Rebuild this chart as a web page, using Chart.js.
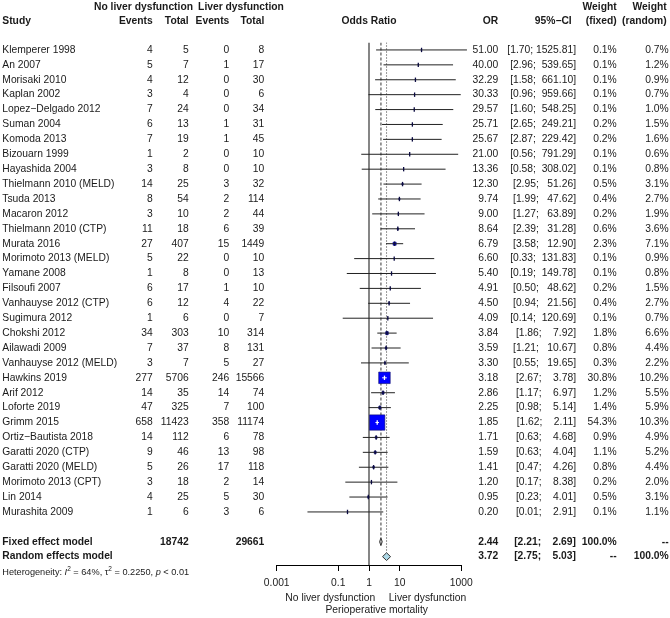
<!DOCTYPE html>
<html>
<head>
<meta charset="utf-8">
<script src="https://cdn.jsdelivr.net/npm/chart.js@4.4.0/dist/chart.umd.min.js"></script>
<style>
  html, body { margin: 0; padding: 0; background: #fff; }
  #forest { display: block; }
</style>
</head>
<body>
<canvas id="forest" width="670" height="618"></canvas>
<script>
// Study rows
const studyNames = ['Klemperer 1998', 'An 2007', 'Morisaki 2010', 'Kaplan 2002', 'Lopez\u2212Delgado 2012', 'Suman 2004',
  'Komoda 2013', 'Bizouarn 1999', 'Hayashida 2004', 'Thielmann 2010 (MELD)', 'Tsuda 2013', 'Macaron 2012',
  'Thielmann 2010 (CTP)', 'Murata 2016', 'Morimoto 2013 (MELD)', 'Yamane 2008', 'Filsoufi 2007', 'Vanhauyse 2012 (CTP)',
  'Sugimura 2012', 'Chokshi 2012', 'Ailawadi 2009', 'Vanhauyse 2012 (MELD)', 'Hawkins 2019', 'Arif 2012',
  'Loforte 2019', 'Grimm 2015', 'Ortiz\u2212Bautista 2018', 'Garatti 2020 (CTP)', 'Garatti 2020 (MELD)',
  'Morimoto 2013 (CPT)', 'Lin 2014', 'Murashita 2009'];
const eventsNoLD = [4, 5, 4, 3, 7, 6, 7, 1, 3, 14, 8, 3, 11, 27, 5, 1, 6, 6, 1, 34, 7, 3, 277, 14, 47, 658, 14, 9, 5, 3, 4, 1];
const totalNoLD = [5, 7, 12, 4, 24, 13, 19, 2, 8, 25, 54, 10, 18, 407, 22, 8, 17, 12, 6, 303, 37, 7, 5706, 35, 325, 11423, 112, 46, 26, 18, 25, 6];
const eventsLD = [0, 1, 0, 0, 0, 1, 1, 0, 0, 3, 2, 2, 6, 15, 0, 0, 1, 4, 0, 10, 8, 5, 246, 14, 7, 358, 6, 13, 17, 2, 5, 3];
const totalLD = [8, 17, 30, 6, 34, 31, 45, 10, 10, 32, 114, 44, 39, 1449, 10, 13, 10, 22, 7, 314, 131, 27, 15566, 74, 100, 11174, 78, 98, 118, 14, 30, 6];
const oddsRatio = [51.00, 40.00, 32.29, 30.33, 29.57, 25.71, 25.67, 21.00, 13.36, 12.30, 9.74, 9.00, 8.64, 6.79, 6.60, 5.40,
  4.91, 4.50, 4.09, 3.84, 3.59, 3.30, 3.18, 2.86, 2.25, 1.85, 1.71, 1.59, 1.41, 1.20, 0.95, 0.20];
const ciLower = [1.70, 2.96, 1.58, 0.96, 1.60, 2.65, 2.87, 0.56, 0.58, 2.95, 1.99, 1.27, 2.39, 3.58, 0.33, 0.19,
  0.50, 0.94, 0.14, 1.86, 1.21, 0.55, 2.67, 1.17, 0.98, 1.62, 0.63, 0.63, 0.47, 0.17, 0.23, 0.01];
const ciUpper = [1525.81, 539.65, 661.10, 959.66, 548.25, 249.21, 229.42, 791.29, 308.02, 51.26, 47.62, 63.89, 31.28, 12.90,
  131.83, 149.78, 48.62, 21.56, 120.69, 7.92, 10.67, 19.65, 3.78, 6.97, 5.14, 2.11, 4.68, 4.04, 4.26, 8.38, 4.01, 2.91];
const weightFixed = [0.1, 0.1, 0.1, 0.1, 0.1, 0.2, 0.2, 0.1, 0.1, 0.5, 0.4, 0.2, 0.6, 2.3, 0.1, 0.1, 0.2, 0.4, 0.1, 1.8,
  0.8, 0.3, 30.8, 1.2, 1.4, 54.3, 0.9, 1.1, 0.8, 0.2, 0.5, 0.1];
const weightRandom = [0.7, 1.2, 0.9, 0.7, 1.0, 1.5, 1.6, 0.6, 0.8, 3.1, 2.7, 1.9, 3.6, 7.1, 0.9, 0.8, 1.5, 2.7, 0.7, 6.6,
  4.4, 2.2, 10.2, 5.5, 5.9, 10.3, 4.9, 5.2, 4.4, 2.0, 3.1, 1.1];

// Pooled models
const modelNames = ['Fixed effect model', 'Random effects model'];
const modelOR = [2.44, 3.72];
const modelLower = [2.21, 2.75];
const modelUpper = [2.69, 5.03];
const modelWeightFixed = ['100.0%', '--'];
const modelWeightRandom = ['--', '100.0%'];
const pooledTotals = [18742, 29661];

// Axis
const xTicks = [0.001, 0.1, 1, 10, 1000];
const xTickLabels = ['0.001', '0.1', '1', '10', '1000'];

const FONT = "'Liberation Sans', Arial, Helvetica, sans-serif";
const TEXT_COLOR = '#1a1a1a';
const ROW_FIXED = 33;
const ROW_RANDOM = 34;
const DIAMOND_H = 0.26;

// square side in px from fixed weight
const squareSide = w => 2.08 * Math.sqrt(w);

function ciInsideSquare(chart, i) {
  const x = chart.scales.x;
  return (x.getPixelForValue(ciUpper[i]) - x.getPixelForValue(ciLower[i])) < squareSide(weightFixed[i]);
}

function ciText(lo, hi) {
  const u = hi.toFixed(2);
  return '[' + lo.toFixed(2) + '; ' + ' '.repeat(Math.max(0, 7 - u.length)) + u + ']';
}

// CI segments with gaps between studies
const ciPoints = [];
studyNames.forEach((_, i) => {
  ciPoints.push({x: ciLower[i], y: i}, {x: ciUpper[i], y: i}, {x: ciUpper[i], y: null});
});

const estPoints = oddsRatio.map((v, i) => ({x: v, y: i}));

function diamond(row, est, lo, hi) {
  return [
    {x: lo, y: row}, {x: est, y: row - DIAMOND_H}, {x: hi, y: row},
    {x: est, y: row + DIAMOND_H}, {x: lo, y: row}
  ];
}

const forestText = {
  id: 'forestText',
  afterDraw(chart) {
    const ctx = chart.ctx;
    const ys = chart.scales.y;
    const xs = chart.scales.x;
    ctx.save();
    ctx.fillStyle = TEXT_COLOR;
    ctx.textBaseline = 'middle';

    const put = (txt, x, y, align, bold, size) => {
      ctx.font = (bold ? 'bold ' : '') + (size || 10.3) + 'px ' + FONT;
      ctx.textAlign = align;
      ctx.fillText(txt, x, y);
    };

    // headers
    const h1 = ys.getPixelForValue(-2.9);
    const h2 = ys.getPixelForValue(-1.9);
    put('No liver dysfunction', 143.5, h1, 'center', true);
    put('Liver dysfunction', 241, h1, 'center', true);
    put('Weight', 616.7, h1, 'right', true);
    put('Weight', 666.7, h1, 'right', true);
    put('Study', 2.3, h2, 'left', true);
    put('Events', 152.7, h2, 'right', true);
    put('Total', 188.7, h2, 'right', true);
    put('Events', 229.3, h2, 'right', true);
    put('Total', 264.3, h2, 'right', true);
    put('Odds Ratio', xs.getPixelForValue(1), h2, 'center', true);
    put('OR', 498.3, h2, 'right', true);
    put('95%\u2212CI', 571.7, h2, 'right', true);
    put('(fixed)', 616.7, h2, 'right', true);
    put('(random)', 666.7, h2, 'right', true);

    // study rows
    studyNames.forEach((name, i) => {
      const y = ys.getPixelForValue(i);
      put(name, 2.3, y, 'left');
      put(String(eventsNoLD[i]), 152.7, y, 'right');
      put(String(totalNoLD[i]), 188.7, y, 'right');
      put(String(eventsLD[i]), 229.3, y, 'right');
      put(String(totalLD[i]), 264.3, y, 'right');
      put(oddsRatio[i].toFixed(2), 498.3, y, 'right');
      put(ciText(ciLower[i], ciUpper[i]), 576, y, 'right');
      put(weightFixed[i].toFixed(1) + '%', 616.7, y, 'right');
      put(weightRandom[i].toFixed(1) + '%', 668.7, y, 'right');
    });

    // pooled rows
    [ROW_FIXED, ROW_RANDOM].forEach((row, k) => {
      const y = ys.getPixelForValue(row);
      put(modelNames[k], 2.3, y, 'left', true);
      if (k === 0) {
        put(String(pooledTotals[0]), 188.7, y, 'right', true);
        put(String(pooledTotals[1]), 264.3, y, 'right', true);
      }
      put(modelOR[k].toFixed(2), 498.3, y, 'right', true);
      put(ciText(modelLower[k], modelUpper[k]), 576, y, 'right', true);
      put(modelWeightFixed[k], 616.7, y, 'right', true);
      put(modelWeightRandom[k], 668.7, y, 'right', true);
    });

    // heterogeneity line
    const hy = ys.getPixelForValue(35.05);
    const parts = [
      ['Heterogeneity: ', '', 9.2, 0],
      ['I', 'italic ', 9.2, 0],
      ['2', '', 6.5, -3],
      [' = 64%, \u03c4', '', 9.2, 0],
      ['2', '', 6.5, -3],
      [' = 0.2250, ', '', 9.2, 0],
      ['p', 'italic ', 9.2, 0],
      [' < 0.01', '', 9.2, 0]
    ];
    let hx = 2.3;
    ctx.textAlign = 'left';
    parts.forEach(([t, st, sz, dy]) => {
      ctx.font = st + sz + 'px ' + FONT;
      ctx.fillText(t, hx, hy + dy);
      hx += ctx.measureText(t).width;
    });

    // axis captions
    put('No liver dysfunction', 330.3, 598, 'center');
    put('Liver dysfunction', 427.5, 598, 'center');
    put('Perioperative mortality', 376.7, 610.5, 'center');
    ctx.restore();
  }
};

new Chart(document.getElementById('forest'), {
  type: 'scatter',
  data: {
    datasets: [
      {
        // estimate tick marks
        data: estPoints,
        order: 1,
        pointStyle: 'line',
        pointRotation: 90,
        pointRadius: 2.2,
        pointBorderWidth: 1.3,
        pointBorderColor: ctx => ciInsideSquare(ctx.chart, ctx.dataIndex) ? '#ffffff' : '#0a0a40',
        clip: false
      },
      {
        // confidence intervals
        data: ciPoints,
        order: 2,
        showLine: true,
        spanGaps: false,
        pointRadius: 0,
        borderWidth: 1,
        borderColor: '#222',
        segment: {
          borderColor: ctx => ciInsideSquare(ctx.chart, Math.floor(ctx.p0DataIndex / 3)) ? '#ffffff' : '#222'
        },
        clip: false
      },
      {
        // weight squares
        data: estPoints,
        order: 3,
        pointStyle: 'rect',
        pointRadius: ctx => squareSide(weightFixed[ctx.dataIndex]) / Math.SQRT2,
        pointBackgroundColor: '#0000ff',
        pointBorderColor: '#10106a',
        pointBorderWidth: 0.6,
        clip: false
      },
      {
        // fixed effect diamond
        data: diamond(ROW_FIXED, modelOR[0], modelLower[0], modelUpper[0]),
        order: 4,
        showLine: true,
        pointRadius: 0,
        borderColor: '#333',
        borderWidth: 1,
        backgroundColor: '#bfbfbf',
        fill: 'shape'
      },
      {
        // random effects diamond
        data: diamond(ROW_RANDOM, modelOR[1], modelLower[1], modelUpper[1]),
        order: 5,
        showLine: true,
        pointRadius: 0,
        borderColor: '#333',
        borderWidth: 1,
        backgroundColor: '#add8e6',
        fill: 'shape'
      },
      {
        // random effects reference
        data: [{x: modelOR[1], y: -0.5}, {x: modelOR[1], y: ROW_RANDOM - DIAMOND_H}],
        order: 6,
        showLine: true,
        pointRadius: 0,
        borderColor: '#333',
        borderWidth: 1,
        borderDash: [1, 2]
      },
      {
        // fixed effect reference
        data: [{x: modelOR[0], y: -0.5}, {x: modelOR[0], y: ROW_FIXED - DIAMOND_H}],
        order: 7,
        showLine: true,
        pointRadius: 0,
        borderColor: '#777',
        borderWidth: 1.5,
        borderDash: [3, 2]
      },
      {
        // no effect line
        data: [{x: 1, y: -0.5}, {x: 1, y: 34.56}],
        order: 8,
        showLine: true,
        pointRadius: 0,
        borderColor: '#444',
        borderWidth: 1.3
      }
    ]
  },
  options: {
    responsive: false,
    animation: false,
    layout: { padding: { left: 276.7, right: 208.7, top: 42.5, bottom: 0 } },
    plugins: { legend: { display: false }, tooltip: { enabled: false } },
    scales: {
      x: {
        type: 'logarithmic',
        min: 0.001,
        max: 1000,
        position: 'bottom',
        afterBuildTicks: scale => { scale.ticks = xTicks.map(v => ({value: v})); },
        afterFit: scale => { scale.height = 53; },
        grid: { drawOnChartArea: false, drawTicks: true, tickLength: 6, color: '#000', lineWidth: 1 },
        border: { display: true, color: '#000', width: 1 },
        ticks: {
          autoSkip: false,
          maxRotation: 0,
          padding: 6,
          color: TEXT_COLOR,
          font: { family: FONT, size: 10.3 },
          callback: v => xTickLabels[xTicks.indexOf(v)]
        }
      },
      y: {
        type: 'linear',
        reverse: true,
        min: -0.5,
        max: 34.56,
        display: false
      }
    }
  },
  plugins: [forestText]
});
</script>
</body>
</html>
